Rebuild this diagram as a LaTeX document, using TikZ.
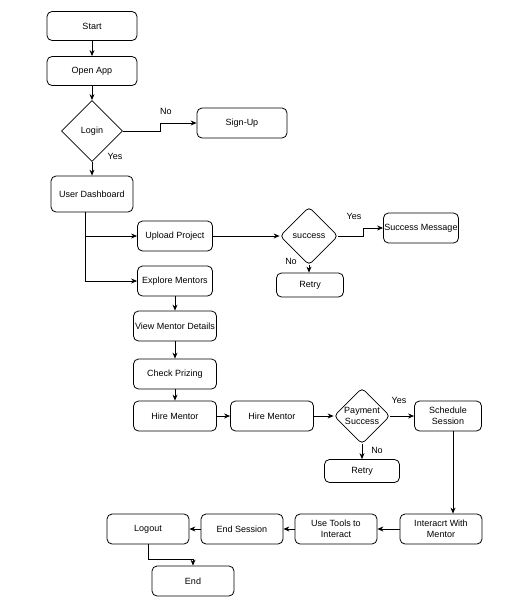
\documentclass[tikz,border=0pt]{standalone}
\usepackage{fontspec}
\setmainfont{Liberation Sans}
\usetikzlibrary{shapes.geometric,arrows.meta}

\tikzset{
    box/.style={draw, rounded corners=5pt, minimum width=#1, minimum height=30,
        inner sep=1pt, align=center, font=\fontsize{9}{11}\selectfont},
    box/.default=82,
    dia/.style={draw, diamond, aspect=1, inner sep=-4pt, align=center,
        minimum width=#1, minimum height=#1, font=\fontsize{9}{11}\selectfont},
    arr/.style={-{Stealth[length=6pt,width=5pt]}},
    lbl/.style={font=\fontsize{9}{11}\selectfont, inner sep=0pt}
}

\begin{document}
\begin{tikzpicture}[x=1pt, y=-1pt, line width=0.8pt]
    \useasboundingbox (0,0) rectangle (515,608);

    % helper points for the bent connectors
    \coordinate (k1) at (160,131);
    \coordinate (d1) at (85,250);
    \coordinate (k2) at (363,236);
    \coordinate (k3) at (453,470);
    \coordinate (k4) at (193,559);

    \node[box=90, minimum height=29] (start) at (92,26) {Start};
    \node[box=90, minimum height=29] (open) at (92,71) {Open App};
    \node[dia=61] (login) at (92,131) {Login};
    \node[box=90] (signup) at (242,123) {Sign-Up};
    \node[box=82, minimum height=36] (dash) at (92,194) {User Dashboard};

    \node[box=75] (upload) at (175,236) {Upload Project};
    \node[dia=58, rounded corners=4pt] (succ) at (309,236) {success};
    \node[box=75] (msg) at (421,228) {Success Message};
    \node[box=67, minimum height=24] (retryA) at (310,285) {Retry};

    \node[box=75] (explore) at (175,281) {Explore Mentors};
    \node[box=83] (view) at (175,326) {View Mentor Details};
    \node[box=83] (check) at (175,374) {Check Prizing};
    \node[box=83] (hireA) at (175,416) {Hire Mentor};
    \node[box=83] (hireB) at (272,416) {Hire Mentor};
    \node[dia=56, rounded corners=4pt] (pay) at (362,416) {Payment\\Success};
    \node[box=67] (sched) at (448,416) {Schedule\\Session};
    \node[box=75, minimum height=23] (retryB) at (362,471) {Retry};

    \node[box] (inter) at (441,529) {Interacrt With\\Mentor};
    \node[box] (tools) at (336,529) {Use Tools to\\Interact};
    \node[box] (endsess) at (242,529) {End Session};
    \node[box] (logout) at (148,529) {Logout};
    \node[box] (end) at (193,581) {End};

    \draw[arr] (start) -- (open);
    \draw[arr] (open) -- (login);
    \draw[arr] (login.east) -- (k1) |- (signup.west);
    \draw[arr] (login) -- (dash);
    \draw[arr] (dash.south -| d1) |- (upload.west);
    \draw[arr] (dash.south -| d1) |- (explore.west);

    \draw[arr] (upload) -- (succ);
    \draw[arr] (succ.east) -- (k2) |- (msg.west);
    \draw[arr] (succ.south) -- (retryA.north -| succ.south);

    \draw[arr] (explore) -- (view);
    \draw[arr] (view) -- (check);
    \draw[arr] (check) -- (hireA);
    \draw[arr] (hireA) -- (hireB);
    \draw[arr] (hireB) -- (pay);
    \draw[arr] (pay) -- (sched);
    \draw[arr] (pay) -- (retryB);

    \draw[arr] (sched.south -| k3) -- (inter.north -| k3);
    \draw[arr] (inter) -- (tools);
    \draw[arr] (tools) -- (endsess);
    \draw[arr] (endsess) -- (logout);
    \draw[arr] (logout.south) |- (k4) -- (end.north);

    \node[lbl] (no1) at (166,111) {No};
    \node[lbl] (yes1) at (115,156) {Yes};
    \node[lbl] (yes2) at (354,216) {Yes};
    \node[lbl] (no2) at (291,261) {No};
    \node[lbl] (yes3) at (399,400) {Yes};
    \node[lbl] (no3) at (377,450) {No};
\end{tikzpicture}
\end{document}
